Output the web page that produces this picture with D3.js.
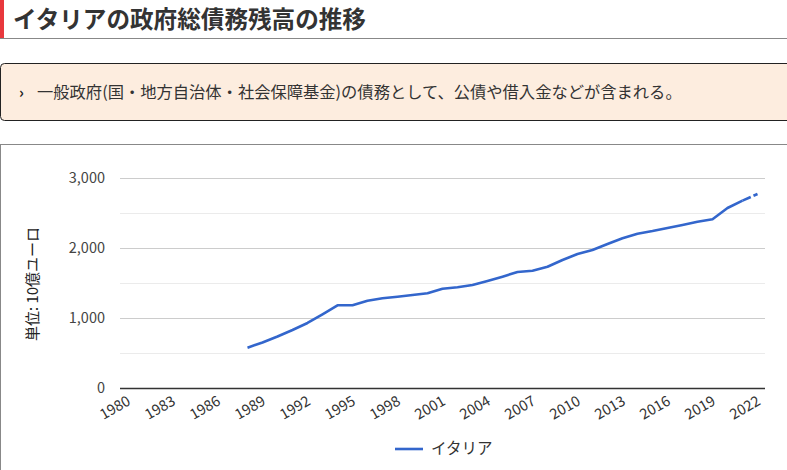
<!DOCTYPE html>
<html><head><meta charset="utf-8">
<script src="https://cdn.jsdelivr.net/npm/d3@7"></script>
<style>
html,body{margin:0;padding:0;background:#fff;overflow:hidden;}
text{font-family:"Noto Sans CJK JP","Noto Sans",sans-serif;}
</style></head>
<body><svg id="c" width="787" height="470"></svg>
<script>
const titleText = "イタリアの政府総債務残高の推移";
const noteText = "一般政府(国・地方自治体・社会保障基金)の債務として、公債や借入金などが含まれる。";
const yAxisTitle = "単位: 10億ユーロ";
const seriesName = "イタリア";
const years = d3.range(1980, 2023);
const tickYears = [1980,1983,1986,1989,1992,1995,1998,2001,2004,2007,2010,2013,2016,2019,2022];
const yTicks = [0,1000,2000,3000];
const yMinor = [500,1500,2500];
const dataYears = [1988,1989,1990,1991,1992,1993,1994,1995,1996,1997,1998,1999,2000,2001,2002,2003,2004,2005,2006,2007,2008,2009,2010,2011,2012,2013,2014,2015,2016,2017,2018,2019,2020,2021,2022];
const debt = [580,655,740,833,933,1057,1186,1186,1252,1286,1309,1333,1357,1423,1443,1476,1533,1595,1661,1680,1737,1833,1919,1976,2061,2143,2209,2247,2290,2333,2380,2414,2576,2681,2776];

const svg = d3.select("#c");
// Title
svg.append("rect").attr("x",0).attr("y",0).attr("width",4).attr("height",38).attr("fill","#e8383d");
svg.append("text").attr("x",13).attr("y",28).attr("font-size",23.6).attr("font-weight","bold").attr("fill","#333").text(titleText);
svg.append("line").attr("x1",0).attr("x2",787).attr("y1",38.5).attr("y2",38.5).attr("stroke","#888").attr("stroke-width",1);
// Note box
svg.append("rect").attr("x",0.5).attr("y",63.5).attr("width",800).attr("height",57).attr("rx",4).attr("fill","#fdeddf").attr("stroke","#222").attr("stroke-width",1);
svg.append("text").attr("x",19).attr("y",98).attr("font-size",15).attr("font-weight","bold").attr("fill","#222").text("›");
svg.append("text").attr("x",37).attr("y",98).attr("font-size",16.3).attr("fill","#333").text(noteText);
// Chart box
svg.append("rect").attr("x",0.5).attr("y",144.5).attr("width",800).attr("height",340).attr("fill","#fff").attr("stroke","#888").attr("stroke-width",1);

const x = d3.scaleBand().domain(years).range([120,765]);
const y = d3.scaleLinear().domain([0,3000]).range([388.3,178.3]);
const cx = d => x(d)+x.bandwidth()/2;

const g = svg.append("g");
g.selectAll(".minor").data(yMinor).join("line").attr("x1",120).attr("x2",765)
 .attr("y1",d=>Math.round(y(d))+0.5).attr("y2",d=>Math.round(y(d))+0.5).attr("stroke","#ebebeb");
g.selectAll(".major").data(yTicks.filter(d=>d>0)).join("line").attr("x1",120).attr("x2",765)
 .attr("y1",d=>Math.round(y(d))+0.5).attr("y2",d=>Math.round(y(d))+0.5).attr("stroke","#cccccc");
g.selectAll(".ylab").data(yTicks).join("text").attr("x",105).attr("y",d=>y(d)+5)
 .attr("text-anchor","end").attr("font-size",14.5).attr("fill","#444").text(d3.format(",")); 
svg.append("text").attr("transform","translate(38,284) rotate(-90)").attr("text-anchor","middle")
 .attr("font-size",15).attr("fill","#222").text(yAxisTitle);

g.selectAll(".xlab").data(tickYears).join("text")
 .attr("transform",d=>`translate(${cx(d)+4},${404}) rotate(-30)`)
 .attr("text-anchor","end").attr("font-size",14.5).attr("fill","#333").text(d=>d);

const pts = dataYears.map((yr,i)=>[cx(yr), y(debt[i])]);
const line = d3.line();
svg.append("path").attr("d",line(pts.slice(0,pts.length-1))).attr("fill","none")
 .attr("stroke","#3366cc").attr("stroke-width",2.6).attr("stroke-linejoin","round");
svg.append("path").attr("d",line(pts.slice(pts.length-2))).attr("fill","none")
 .attr("stroke","#3366cc").attr("stroke-width",2.6).attr("stroke-dasharray","9,3");

svg.append("line").attr("x1",120).attr("x2",765).attr("y1",388.5).attr("y2",388.5).attr("stroke","#333").attr("stroke-width",1.3);

// Legend
svg.append("line").attr("x1",395).attr("x2",423).attr("y1",449).attr("y2",449).attr("stroke","#3366cc").attr("stroke-width",2.6);
svg.append("text").attr("x",431).attr("y",454).attr("font-size",15.5).attr("fill","#333").text(seriesName);
</script></body></html>
